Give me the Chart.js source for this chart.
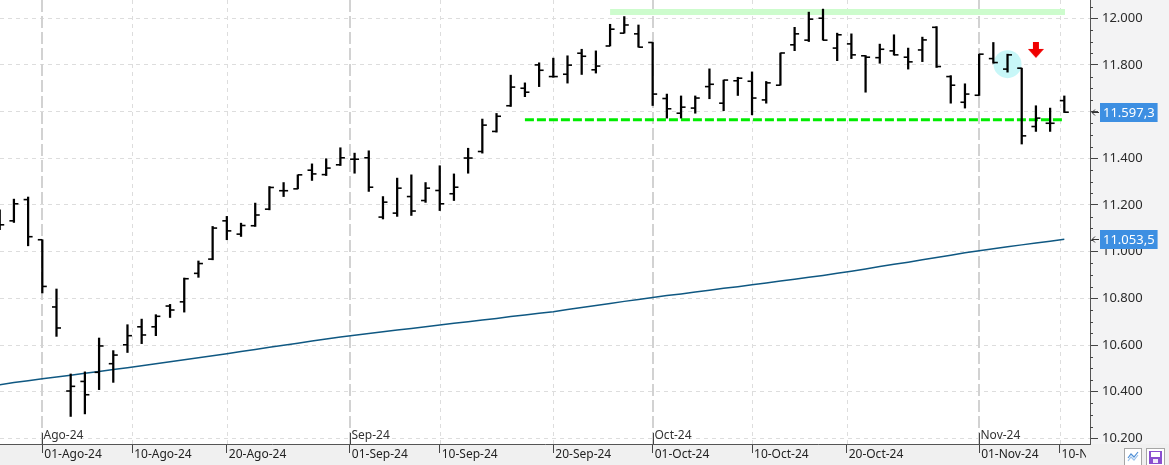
<!DOCTYPE html>
<html>
<head>
<meta charset="utf-8">
<script src="https://cdn.jsdelivr.net/npm/chart.js@4.4.1/dist/chart.umd.min.js"></script>
<style>
  html, body { margin: 0; padding: 0; background: #fff; overflow: hidden; }
  canvas { display: block; }
</style>
</head>
<body>
<canvas id="chart" width="1169" height="465"></canvas>
<script>
// Daily OHLC bars, 29-Jul-24 .. 11-Nov-24 (trading days only)
const opens = [
  11150, 11132, 11223, 11051, 10763,
  10403, 10444, 10483, 10520, 10601,
  10678, 10678, 10767, 10785, 10907,
  10968, 11132, 11075, 11111, 11182,
  11261, 11269, 11349, 11330, 11372,
  11396, 11402, 11148, 11165, 11236,
  11219, 11262, 11248, 11401, 11429,
  11515, 11625, 11700, 11800, 11750,
  11760, 11850, 11779, 11881, 11936, 11933,
  11896, 11656, 11593, 11615,
  11707, 11636, 11732, 11730, 11650,
  11713, 11886, 11906, 12000, 11872,
  11890, 11839, 11831, 11860, 11833,
  11864, 11961, 11750, 11640,
  11670,
  11827, 11782, 11786, 11536, 11550,
  11647
]
const highs = [
  11179, 11225, 11234, 11051, 10840,
  10476, 10485, 10630, 10576, 10687,
  10711, 10730, 10774, 10887, 10960,
  11108, 11151, 11122, 11208, 11279,
  11296, 11329, 11376, 11398, 11445,
  11422, 11432, 11236, 11315, 11329,
  11296, 11368, 11333, 11443, 11568,
  11592, 11756, 11723, 11809, 11829,
  11839, 11867, 11860, 11974, 12007, 11971,
  11896, 11675, 11667, 11667,
  11783, 11735, 11747, 11770, 11729,
  11851, 11961, 12026, 12039, 11936,
  11933, 11840, 11889, 11929, 11872,
  11919, 11964, 11754, 11719,
  11846,
  11896, 11846, 11786, 11625, 11615,
  11667
]
const lows = [
  11094, 11125, 11025, 10823, 10637,
  10294, 10305, 10409, 10440, 10568,
  10606, 10640, 10718, 10741, 10890,
  10965, 11051, 11065, 11108, 11179,
  11236, 11269, 11305, 11326, 11369,
  11336, 11258, 11140, 11151, 11155,
  11211, 11176, 11219, 11336, 11422,
  11512, 11622, 11664, 11707, 11747,
  11722, 11759, 11765, 11881, 11936, 11876,
  11626, 11572, 11572, 11593,
  11655, 11604, 11669, 11586, 11636,
  11713, 11861, 11900, 11906, 11818,
  11827, 11683, 11807, 11842, 11782,
  11814, 11789, 11636, 11615,
  11669,
  11807, 11769, 11461, 11515, 11515,
  11596
]
const closes = [
  11115, 11205, 11064, 10851, 10673,
  10423, 10387, 10596, 10557, 10640,
  10643, 10723, 10750, 10884, 10949,
  11101, 11089, 11112, 11157, 11275,
  11261, 11329, 11333, 11358, 11402,
  11396, 11276, 11212, 11272, 11174,
  11272, 11205, 11276, 11401, 11542,
  11580, 11705, 11683, 11777, 11750,
  11799, 11837, 11795, 11953, 11971, 11876,
  11675, 11612, 11619, 11658,
  11717, 11735, 11743, 11658, 11723,
  11851, 11933, 11996, 11906, 11929,
  11843, 11833, 11867, 11843, 11813,
  11907, 11793, 11713, 11675,
  11846,
  11810, 11843, 11496, 11572, 11550,
  11597.3
]
// long moving average (dark blue line)
const movingAvg = [
  10430, 10439, 10447, 10456, 10463,
  10471, 10479, 10487, 10495, 10503,
  10511, 10520, 10528, 10537, 10545,
  10554, 10563, 10572, 10581, 10590,
  10599, 10608, 10617, 10626, 10634,
  10642, 10649, 10657, 10664, 10671,
  10678, 10686, 10693, 10700, 10707,
  10714, 10722, 10729, 10736, 10743,
  10752, 10761, 10769, 10778, 10787, 10795,
  10804, 10812, 10819, 10827,
  10835, 10843, 10850, 10858, 10866,
  10874, 10882, 10890, 10898, 10907,
  10916, 10926, 10936, 10946, 10955,
  10965, 10975, 10985, 10995,
  11004,
  11012, 11021, 11029, 11037, 11045,
  11053.5
]

// axis labels
const tickDates = ["2024-08-01", "2024-08-10", "2024-08-20", "2024-09-01", "2024-09-10", "2024-09-20",
  "2024-10-01", "2024-10-10", "2024-10-20", "2024-11-01", "2024-11-10"]
const tickLabels = ["01-Ago-24", "10-Ago-24", "20-Ago-24", "01-Sep-24", "10-Sep-24", "20-Sep-24",
  "01-Oct-24", "10-Oct-24", "20-Oct-24", "01-Nov-24", "10-N"]
const monthLabels = ["Ago-24", "Sep-24", "Oct-24", "Nov-24"]
const monthDates = ["2024-08-01", "2024-09-01", "2024-10-01", "2024-11-01"]
const yTicks = [10200, 10400, 10600, 10800, 11000, 11200, 11400, 11600, 11800, 12000]

// drawn lines / marks (bar index, value)
const resistance = { from: 43, to: 75.05, value: 12027 }
const support = { from: 37, to: 74.83, value: 11565 }
const highlight = { x: 71, y: 11803, r: 14 }
const signal = { x: 73, y: 11862 }

const yMin = 10176, yMax = 12078
const xMin = 0.02, xMax = 76.81

// trading calendar for the bar index
const DAY = 86400000
const tradingDays = []
for (let t = Date.UTC(2024, 6, 29); t <= Date.UTC(2024, 10, 11); t += DAY) {
  const wd = new Date(t).getUTCDay()
  if (wd !== 0 && wd !== 6) tradingDays.push(t)
}
function datePos(str) {
  const t = Date.parse(str + "T00:00:00Z")
  let i = 0
  while (i + 1 < tradingDays.length && tradingDays[i + 1] <= t) i++
  if (tradingDays[i] === t || i + 1 >= tradingDays.length) return i
  return i + (t - tradingDays[i]) / (tradingDays[i + 1] - tradingDays[i])
}
const tickPos = tickDates.map(datePos)
const monthPos = monthDates.map(datePos)

function fmt(v, dec) {
  const parts = v.toFixed(dec).split(".")
  const int = parts[0].replace(/\B(?=(\d{3})+(?!\d))/g, ".")
  return parts[1] ? int + "," + parts[1] : int
}

const axisFont = '"Liberation Sans Narrow", "Noto Sans", sans-serif'
const dateFont = '"Noto Sans", sans-serif'

// red down arrow used as a point style
const arrowImg = document.createElement("canvas")
arrowImg.width = 16
arrowImg.height = 17
{
  const a = arrowImg.getContext("2d")
  a.fillStyle = "#f00000"
  a.fillRect(5, 0, 6, 8)
  a.beginPath()
  a.moveTo(0, 7); a.lineTo(16, 7); a.lineTo(8, 16)
  a.closePath()
  a.fill()
}

const extras = {
  id: "extras",
  beforeDraw(chart) {
    const { ctx, chartArea: { right, bottom } } = chart
    ctx.save()
    ctx.fillStyle = "#ffffff"
    ctx.fillRect(0, 0, chart.width, chart.height)
    ctx.fillStyle = "#f3f3f4"
    ctx.fillRect(right, 0, chart.width - right, chart.height)
    ctx.fillStyle = "#f0f0f0"
    ctx.fillRect(0, bottom, chart.width, chart.height - bottom)
    ctx.restore()
  },
  beforeDatasetsDraw(chart) {
    const { ctx, chartArea: { top, bottom }, scales: { x } } = chart
    ctx.save()
    tickPos.forEach((p, i) => {
      const isMonth = tickDates[i].endsWith("-01")
      const px = Math.round(x.getPixelForValue(p))
      ctx.strokeStyle = isMonth ? "#d2d2d2" : "#dddddd"
      ctx.lineWidth = isMonth ? 2 : 1
      ctx.setLineDash(isMonth ? [12, 4] : [4, 4])
      ctx.beginPath()
      ctx.moveTo(isMonth ? px : px + 0.5, top)
      ctx.lineTo(isMonth ? px : px + 0.5, bottom)
      ctx.stroke()
    })
    ctx.restore()
  },
  afterDraw(chart) {
    const { ctx, chartArea: { right, bottom }, scales: { x, y } } = chart
    ctx.save()
    // clip the last date label under the price panel
    ctx.fillStyle = "#f0f0f0"
    ctx.fillRect(1086, bottom + 1, chart.width - 1086, chart.height - bottom - 1)

    // month marks and labels above the time axis
    ctx.strokeStyle = "#444"
    ctx.lineWidth = 1
    ctx.fillStyle = "#333"
    ctx.font = "12px " + dateFont
    ctx.textAlign = "left"
    ctx.textBaseline = "alphabetic"
    monthPos.forEach((p, i) => {
      const px = Math.round(x.getPixelForValue(p)) + 0.5
      ctx.beginPath()
      ctx.moveTo(px, bottom - 11)
      ctx.lineTo(px, bottom)
      ctx.stroke()
      ctx.fillText(monthLabels[i], px + 1, bottom - 5.5)
    })

    // minor ticks on the price axis
    ctx.strokeStyle = "#444"
    for (let v = yTicks[0] - 200; v <= yMax; v += 50) {
      if (v < yMin || v % 200 === 0) continue
      const py = Math.round(y.getPixelForValue(v)) + 0.5
      ctx.beginPath()
      ctx.moveTo(right, py)
      ctx.lineTo(right + 3, py)
      ctx.stroke()
    }

    // last value boxes
    function valueBox(val) {
      const py = Math.round(y.getPixelForValue(val))
      const txt = fmt(val, 1)
      ctx.font = "13px " + axisFont
      const w = ctx.measureText(txt).width + 6
      ctx.fillStyle = "#3d8fe2"
      ctx.fillRect(right + 10, py - 9, w, 19)
      ctx.fillStyle = "#ffffff"
      ctx.textBaseline = "middle"
      ctx.fillText(txt, right + 13, py + 1)
      ctx.strokeStyle = "#333"
      ctx.beginPath()
      ctx.moveTo(right + 2, py + 0.5)
      ctx.lineTo(right + 9, py + 0.5)
      ctx.moveTo(right + 5, py - 2.5)
      ctx.lineTo(right + 2, py + 0.5)
      ctx.lineTo(right + 5, py + 3.5)
      ctx.stroke()
    }
    valueBox(closes[closes.length - 1])
    valueBox(movingAvg[movingAvg.length - 1])

    // small toolbar buttons, bottom right
    ctx.fillStyle = "#ffffff"
    ctx.strokeStyle = "#a6a6a6"
    ctx.fillRect(1124.5, 448.5, 17, 17)
    ctx.strokeRect(1124.5, 448.5, 17, 17)
    ctx.fillRect(1146.5, 448.5, 18, 17)
    ctx.strokeRect(1146.5, 448.5, 18, 17)
    ctx.lineWidth = 1.2
    ctx.strokeStyle = "#4f8fd6"
    ctx.beginPath()
    ctx.moveTo(1128, 458); ctx.lineTo(1131, 454); ctx.lineTo(1134, 457); ctx.lineTo(1138, 452)
    ctx.stroke()
    ctx.strokeStyle = "#9cc2ea"
    ctx.beginPath()
    ctx.moveTo(1128, 461); ctx.lineTo(1131, 457); ctx.lineTo(1134, 460); ctx.lineTo(1138, 455)
    ctx.stroke()
    ctx.fillStyle = "#8a4fcf"
    ctx.fillRect(1149, 451, 13, 13)
    ctx.fillStyle = "#ffffff"
    ctx.fillRect(1151, 452, 9, 5)
    ctx.fillStyle = "#f0e8fa"
    ctx.fillRect(1153, 459, 5, 4)
    ctx.restore()
  }
}

const idx = opens.map((_, i) => i)
const barWidth = 1.6

new Chart(document.getElementById("chart"), {
  type: "line",
  data: {
    datasets: [
      {
        type: "line",
        label: "open",
        data: idx.map(i => ({ x: i, y: opens[i] })),
        showLine: false,
        pointStyle: "dash",
        pointRotation: 180,
        pointRadius: 4.5,
        pointBorderWidth: barWidth,
        pointBorderColor: "#000",
        order: 1
      },
      {
        type: "line",
        label: "close",
        data: idx.map(i => ({ x: i, y: closes[i] })),
        showLine: false,
        pointStyle: "dash",
        pointRotation: 0,
        pointRadius: 4.5,
        pointBorderWidth: barWidth,
        pointBorderColor: "#000",
        order: 1
      },
      {
        type: "bar",
        label: "range",
        data: idx.map(i => ({ x: i, y: [lows[i], highs[i]] })),
        backgroundColor: "#000",
        borderWidth: 0,
        barThickness: barWidth,
        order: 2
      },
      {
        type: "line",
        label: "signal",
        data: [{ x: signal.x, y: signal.y }],
        showLine: false,
        pointStyle: arrowImg,
        order: 3
      },
      {
        type: "line",
        label: "media",
        data: idx.map(i => ({ x: i, y: movingAvg[i] })),
        borderColor: "#0f5882",
        borderWidth: 1.5,
        pointRadius: 0,
        tension: 0,
        order: 4
      },
      {
        type: "line",
        label: "soporte",
        data: [{ x: support.from, y: support.value }, { x: support.to, y: support.value }],
        borderColor: "#00ec00",
        borderWidth: 3,
        borderDash: [9, 3],
        pointRadius: 0,
        order: 5
      },
      {
        type: "line",
        label: "resistencia",
        data: [{ x: resistance.from, y: resistance.value }, { x: resistance.to, y: resistance.value }],
        borderColor: "#cdfccd",
        borderWidth: 6,
        borderCapStyle: "butt",
        pointRadius: 0,
        order: 6
      },
      {
        type: "bubble",
        label: "zona",
        data: [{ x: highlight.x, y: highlight.y, r: highlight.r }],
        backgroundColor: "#c8f7f8",
        borderWidth: 0,
        order: 7
      }
    ]
  },
  options: {
    responsive: false,
    animation: false,
    events: [],
    layout: { padding: 0, autoPadding: false },
    plugins: { legend: { display: false }, tooltip: { enabled: false } },
    scales: {
      x: {
        type: "linear",
        position: "bottom",
        min: xMin,
        max: xMax,
        offset: false,
        afterBuildTicks: s => { s.ticks = tickPos.map(v => ({ value: v })) },
        afterFit: s => { s.height = 21; s.paddingLeft = 0; s.paddingRight = 0 },
        ticks: {
          autoSkip: false,
          maxRotation: 0,
          minRotation: 0,
          align: "start",
          labelOffset: 2,
          padding: -6,
          color: "#222",
          font: { family: dateFont, size: 12 },
          callback: (v, i) => tickLabels[i]
        },
        grid: { drawOnChartArea: false, offset: false, tickLength: 9, tickColor: "#444" },
        border: { color: "#555", width: 1 }
      },
      y: {
        type: "linear",
        position: "right",
        min: yMin,
        max: yMax,
        afterBuildTicks: s => { s.ticks = yTicks.map(v => ({ value: v })) },
        afterFit: s => { s.width = 79; s.paddingTop = 0; s.paddingBottom = 0 },
        ticks: {
          padding: 4,
          color: "#2a2a2a",
          font: { family: axisFont, size: 13 },
          callback: v => fmt(v, 0)
        },
        grid: { color: "#dddddd", lineWidth: 1, tickLength: 8, tickColor: "#444" },
        border: { color: "#555", width: 1, dash: [4, 4] }
      }
    }
  },
  plugins: [extras]
})
</script>
</body>
</html>
